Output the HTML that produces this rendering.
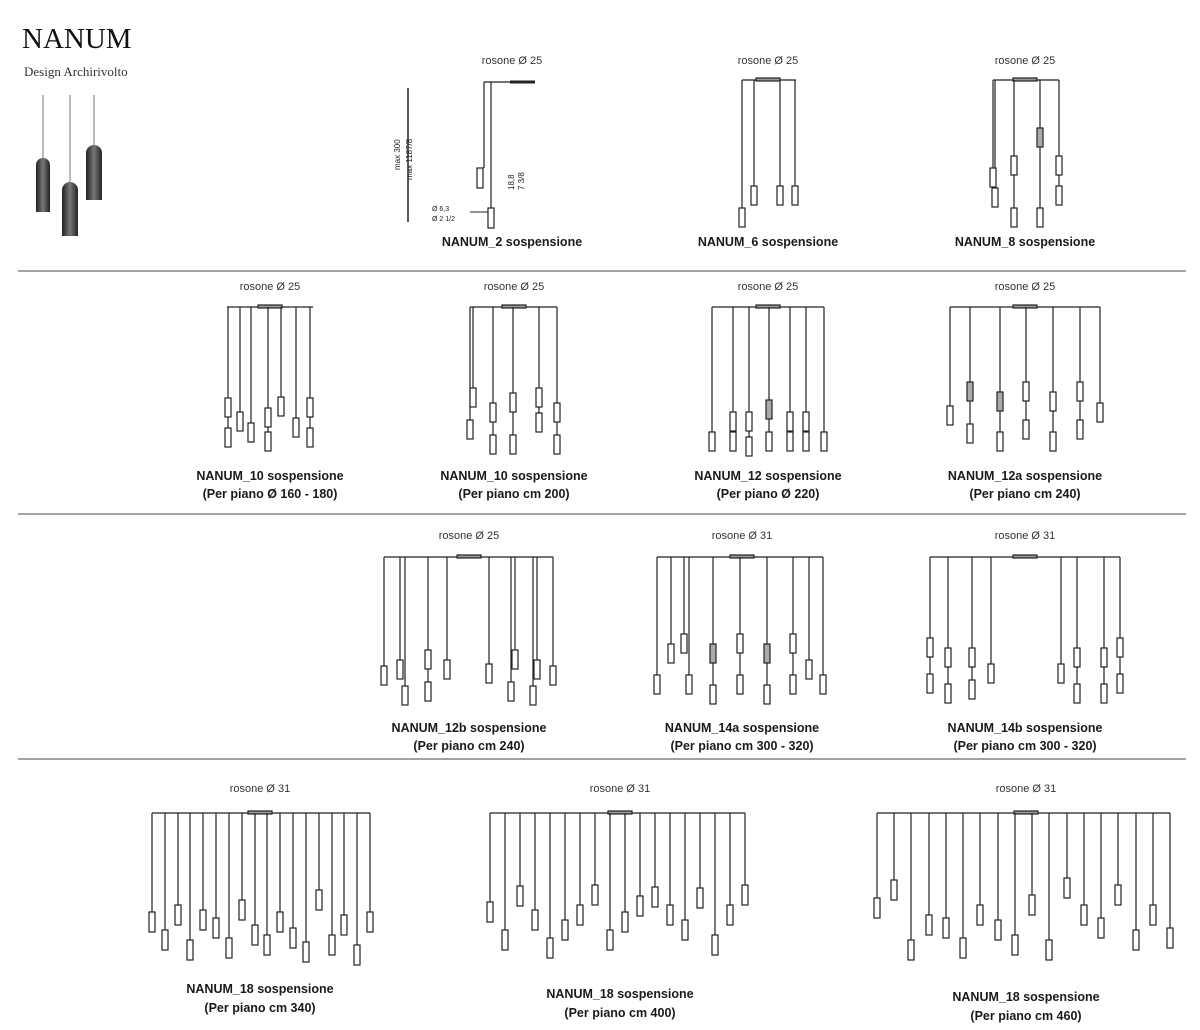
<!DOCTYPE html>
<html><head><meta charset="utf-8"><style>
html,body{margin:0;padding:0;background:#fff;}
svg{display:block;}
text{font-family:"Liberation Sans",sans-serif;fill:#222;}
.t{font-size:12.5px;text-anchor:middle;font-weight:bold;fill:#1a1a1a;}
.r{font-size:11px;text-anchor:middle;fill:#333;}
</style></head><body>
<svg id="s" width="1200" height="1030" viewBox="0 0 1200 1030" xmlns="http://www.w3.org/2000/svg">
<defs><linearGradient id="g" x1="0" x2="1"><stop offset="0" stop-color="#222"/><stop offset=".5" stop-color="#777"/><stop offset="1" stop-color="#222"/></linearGradient></defs>
<text x="22" y="48" style="font-family:'Liberation Serif',serif;font-size:29px;fill:#111">NANUM</text>
<text x="24" y="76" style="font-family:'Liberation Serif',serif;font-size:13px;fill:#333">Design Archirivolto</text>
<g stroke="#777" stroke-width="1"><line x1="43" y1="95" x2="43" y2="160"/><line x1="70" y1="95" x2="70" y2="184"/><line x1="94" y1="95" x2="94" y2="147"/></g>
<path d="M36 212V165a7 7 0 0 1 14 0V212Z" fill="url(#g)"/>
<path d="M62 236V190a8 8 0 0 1 16 0V236Z" fill="url(#g)"/>
<path d="M86 200V153a8 8 0 0 1 16 0V200Z" fill="url(#g)"/>
<g stroke="#444" stroke-width="1"><line x1="18" y1="271" x2="1186" y2="271"/><line x1="18" y1="514" x2="1186" y2="514"/><line x1="18" y1="759" x2="1186" y2="759"/></g>
<text class="r" x="512" y="64">rosone Ø 25</text>
<text class="r" x="768" y="64">rosone Ø 25</text>
<text class="r" x="1025" y="64">rosone Ø 25</text>
<text class="t" x="512" y="246">NANUM_2 sospensione</text>
<text class="t" x="768" y="246">NANUM_6 sospensione</text>
<text class="t" x="1025" y="246">NANUM_8 sospensione</text>
<text class="r" x="270" y="290">rosone Ø 25</text>
<text class="r" x="514" y="290">rosone Ø 25</text>
<text class="r" x="768" y="290">rosone Ø 25</text>
<text class="r" x="1025" y="290">rosone Ø 25</text>
<text class="t" x="270" y="480">NANUM_10 sospensione</text><text class="t" x="270" y="498">(Per piano Ø 160 - 180)</text>
<text class="t" x="514" y="480">NANUM_10 sospensione</text><text class="t" x="514" y="498">(Per piano cm 200)</text>
<text class="t" x="768" y="480">NANUM_12 sospensione</text><text class="t" x="768" y="498">(Per piano Ø 220)</text>
<text class="t" x="1025" y="480">NANUM_12a sospensione</text><text class="t" x="1025" y="498">(Per piano cm 240)</text>
<text class="r" x="469" y="539">rosone Ø 25</text>
<text class="r" x="742" y="539">rosone Ø 31</text>
<text class="r" x="1025" y="539">rosone Ø 31</text>
<text class="t" x="469" y="732">NANUM_12b sospensione</text><text class="t" x="469" y="750">(Per piano cm 240)</text>
<text class="t" x="742" y="732">NANUM_14a sospensione</text><text class="t" x="742" y="750">(Per piano cm 300 - 320)</text>
<text class="t" x="1025" y="732">NANUM_14b sospensione</text><text class="t" x="1025" y="750">(Per piano cm 300 - 320)</text>
<text class="r" x="260" y="792">rosone Ø 31</text>
<text class="r" x="620" y="792">rosone Ø 31</text>
<text class="r" x="1026" y="792">rosone Ø 31</text>
<text class="t" x="260" y="993">NANUM_18 sospensione</text><text class="t" x="260" y="1012">(Per piano cm 340)</text>
<text class="t" x="620" y="998">NANUM_18 sospensione</text><text class="t" x="620" y="1017">(Per piano cm 400)</text>
<text class="t" x="1026" y="1001">NANUM_18 sospensione</text><text class="t" x="1026" y="1020">(Per piano cm 460)</text>
<g stroke="#222" stroke-width="1.5"><line x1="408" y1="88" x2="408" y2="222"/><line x1="510" y1="82" x2="535" y2="82" stroke-width="3"/><line x1="470" y1="212" x2="489" y2="212" stroke-width="1"/></g>
<text x="400" y="170" transform="rotate(-90 400 170)" style="font-size:8px">max 300</text>
<text x="412" y="180" transform="rotate(-90 412 180)" style="font-size:8px">max 1187/8</text>
<text x="514" y="190" transform="rotate(-90 514 190)" style="font-size:8px">18,8</text>
<text x="524" y="190" transform="rotate(-90 524 190)" style="font-size:8px">7 3/8</text>
<text x="432" y="211" style="font-size:7px">Ø 6,3</text><text x="432" y="221" style="font-size:7px">Ø 2 1/2</text>
<g id="d" fill="#fff" stroke="#222" stroke-width="1.2"></g>
</svg>
<script>
var d=document.getElementById('d'),NS='http://www.w3.org/2000/svg';
function el(n,a){var e=document.createElementNS(NS,n);for(var k in a)e.setAttribute(k,a[k]);d.appendChild(e);}
function fx(x0,x1,y,cx,L,w,h){
 w=w||6;h=h||19;
 el('line',{x1:x0,y1:y,x2:x1,y2:y});
 el('rect',{x:cx-12,y:y-2,width:24,height:3,fill:'#999'});
 var wires={};
 L.forEach(function(l){var m=wires[l[0]]||0;if(l[1]+h>m)wires[l[0]]=l[1];});
 for(var x in wires)el('line',{x1:x,y1:y,x2:x,y2:wires[x]});
 L.forEach(function(l){el('rect',{x:l[0]-w/2,y:l[1],width:w,height:h,fill:l[2]?'#aaa':'#fff'});});
}
el('line',{x1:484,y1:82,x2:535,y2:82});
el('line',{x1:484,y1:82,x2:484,y2:168});el('line',{x1:491,y1:82,x2:491,y2:208});
el('rect',{x:477,y:168,width:6,height:20});el('rect',{x:488,y:208,width:6,height:20});
fx(742,796,80,768,[[742,208],[754,186],[780,186],[795,186]]);
fx(993,1059,80,1025,[[993,168],[995,188],[1014,156],[1014,208],[1040,128,1],[1040,208],[1059,156],[1059,186]]);
fx(227,313,307,270,[[228,398],[228,428],[240,412],[251,423],[268,408],[268,432],[281,397],[296,418],[310,398],[310,428]]);
fx(470,557,307,514,[[473,388],[470,420],[493,403],[493,435],[513,393],[513,435],[539,388],[539,413],[557,403],[557,435]]);
fx(712,824,307,768,[[712,432],[733,412],[733,432],[749,412],[749,437],[769,400,1],[769,432],[790,412],[790,432],[806,412],[806,432],[824,432]]);
fx(950,1100,307,1025,[[950,406],[970,382,1],[970,424],[1000,392,1],[1000,432],[1026,382],[1026,420],[1053,392],[1053,432],[1080,382],[1080,420],[1100,403]]);
fx(384,553,557,469,[[384,666],[400,660],[405,686],[428,650],[428,682],[447,660],[489,664],[511,682],[515,650],[537,660],[533,686],[553,666]]);
fx(657,823,557,742,[[657,675],[671,644],[684,634],[689,675],[713,644,1],[713,685],[740,634],[740,675],[767,644,1],[767,685],[793,634],[793,675],[809,660],[823,675]]);
fx(930,1120,557,1025,[[930,638],[930,674],[948,648],[948,684],[972,648],[972,680],[991,664],[1061,664],[1077,648],[1077,684],[1104,648],[1104,684],[1120,638],[1120,674]]);
function row(x0,x1,cx,pat){var L=[],n=pat.length;for(var i=0;i<n;i++)L.push([Math.round(x0+(x1-x0)*i/(n-1)),pat[i]]);fx(x0,x1,813,cx,L,6,20);}
row(152,370,260,[912,930,905,940,910,918,938,900,925,935,912,928,942,890,935,915,945,912]);
row(490,745,620,[902,930,886,910,938,920,905,885,930,912,896,887,905,920,888,935,905,885]);
row(877,1170,1026,[898,880,940,915,918,938,905,920,935,895,940,878,905,918,885,930,905,928]);
</script>
</body></html>
